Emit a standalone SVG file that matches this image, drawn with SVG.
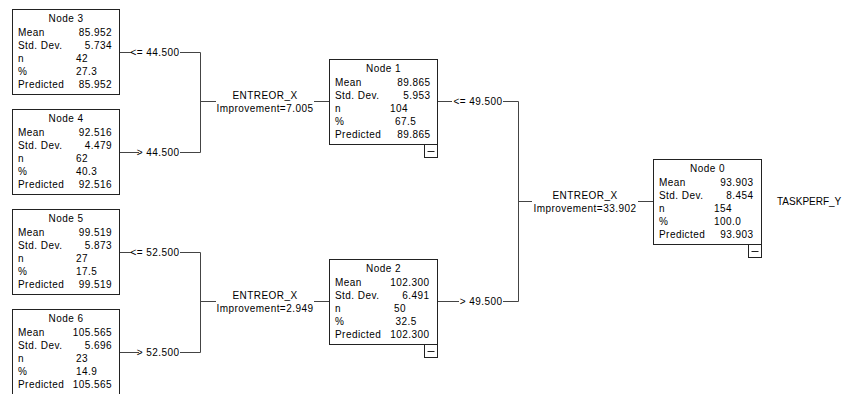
<svg xmlns="http://www.w3.org/2000/svg" width="848" height="394" viewBox="0 0 848 394">
<style>
text{font-family:"Liberation Sans",Arial,sans-serif;font-size:10px;letter-spacing:0.45px;fill:#000}
.box{fill:#fff;stroke:#222;stroke-width:1}
.mb{fill:#fff;stroke:#222;stroke-width:1}
.ml{stroke:#222;stroke-width:1}
.c{fill:none;stroke:#444;stroke-width:1}
.t{text-anchor:middle}
.v{text-anchor:end}
</style>
<rect width="848" height="394" fill="#fff"/>
<g id="connectors">
<path class="c" d="M119.5 52.5H132M180 52.5H200.5V152.5M119.5 152.5H139M180 152.5H200.5M200.5 101.5H216M314 101.5H329.5"/>
<path class="c" d="M119.5 252.5H132M180 252.5H200.5V352.5M119.5 352.5H139M180 352.5H200.5M200.5 301.5H216M314 301.5H329.5"/>
<path class="c" d="M437.5 101.5H452M503 101.5H518.5V301.5M437.5 301.5H459M503 301.5H518.5M518.5 201.5H532M638 201.5H653.5"/>
<text class="v" x="179.5" y="56">&lt;= 44.500</text>
<text class="v" x="179.5" y="156">&gt; 44.500</text>
<text class="v" x="179.5" y="256">&lt;= 52.500</text>
<text class="v" x="179.5" y="356">&gt; 52.500</text>
<text class="v" x="502.5" y="105">&lt;= 49.500</text>
<text class="v" x="502.5" y="305">&gt; 49.500</text>
<text class="t" x="265" y="98.5">ENTREOR_X</text>
<text class="t" x="265" y="112">Improvement=7.005</text>
<text class="t" x="265" y="298.5">ENTREOR_X</text>
<text class="t" x="265" y="312">Improvement=2.949</text>
<text class="t" x="585" y="198.5">ENTREOR_X</text>
<text class="t" x="585" y="212">Improvement=33.902</text>
</g>
<g id="node3" transform="translate(12,9)">
<rect class="box" x="0.5" y="0.5" width="107" height="85"/>
<text class="t" x="54" y="13">Node 3</text>
<text x="6" y="27">Mean</text><text class="v" x="100" y="27">85.952</text>
<text x="6" y="40">Std. Dev.</text><text class="v" x="100" y="40">5.734</text>
<text x="6" y="53">n</text><text x="64" y="53">42</text>
<text x="6" y="66">%</text><text x="64" y="66">27.3</text>
<text x="6" y="78.5">Predicted</text><text class="v" x="100" y="78.5">85.952</text>
</g>
<g id="node4" transform="translate(12,109)">
<rect class="box" x="0.5" y="0.5" width="107" height="85"/>
<text class="t" x="54" y="13">Node 4</text>
<text x="6" y="27">Mean</text><text class="v" x="100" y="27">92.516</text>
<text x="6" y="40">Std. Dev.</text><text class="v" x="100" y="40">4.479</text>
<text x="6" y="53">n</text><text x="64" y="53">62</text>
<text x="6" y="66">%</text><text x="64" y="66">40.3</text>
<text x="6" y="78.5">Predicted</text><text class="v" x="100" y="78.5">92.516</text>
</g>
<g id="node5" transform="translate(12,209)">
<rect class="box" x="0.5" y="0.5" width="107" height="85"/>
<text class="t" x="54" y="13">Node 5</text>
<text x="6" y="27">Mean</text><text class="v" x="100" y="27">99.519</text>
<text x="6" y="40">Std. Dev.</text><text class="v" x="100" y="40">5.873</text>
<text x="6" y="53">n</text><text x="64" y="53">27</text>
<text x="6" y="66">%</text><text x="64" y="66">17.5</text>
<text x="6" y="78.5">Predicted</text><text class="v" x="100" y="78.5">99.519</text>
</g>
<g id="node6" transform="translate(12,309)">
<rect class="box" x="0.5" y="0.5" width="107" height="86"/>
<text class="t" x="54" y="13">Node 6</text>
<text x="6" y="27">Mean</text><text class="v" x="100" y="27">105.565</text>
<text x="6" y="40">Std. Dev.</text><text class="v" x="100" y="40">5.696</text>
<text x="6" y="53">n</text><text x="64" y="53">23</text>
<text x="6" y="66">%</text><text x="64" y="66">14.9</text>
<text x="6" y="78.5">Predicted</text><text class="v" x="100" y="78.5">105.565</text>
</g>
<g id="node1" transform="translate(329,59)">
<rect class="box" x="0.5" y="0.5" width="108" height="85"/>
<text class="t" x="54.5" y="13">Node 1</text>
<text x="6" y="27">Mean</text><text class="v" x="101.5" y="27">89.865</text>
<text x="6" y="40">Std. Dev.</text><text class="v" x="101.5" y="40">5.953</text>
<text x="6" y="53">n</text><text x="61" y="53">104</text>
<text x="6" y="66">%</text><text x="66" y="66">67.5</text>
<text x="6" y="78.5">Predicted</text><text class="v" x="101.5" y="78.5">89.865</text>
<rect class="mb" x="95.5" y="85.5" width="13" height="13"/>
<path class="ml" d="M98.5 92.5H105.5"/>
</g>
<g id="node2" transform="translate(329,259)">
<rect class="box" x="0.5" y="0.5" width="108" height="85"/>
<text class="t" x="54.5" y="13">Node 2</text>
<text x="6" y="27">Mean</text><text class="v" x="100.5" y="27">102.300</text>
<text x="6" y="40">Std. Dev.</text><text class="v" x="100.5" y="40">6.491</text>
<text x="6" y="53">n</text><text x="65" y="53">50</text>
<text x="6" y="66">%</text><text x="66.5" y="66">32.5</text>
<text x="6" y="78.5">Predicted</text><text class="v" x="100.5" y="78.5">102.300</text>
<rect class="mb" x="95.5" y="85.5" width="13" height="13"/>
<path class="ml" d="M98.5 92.5H105.5"/>
</g>
<g id="node0" transform="translate(653,159)">
<rect class="box" x="0.5" y="0.5" width="108" height="85"/>
<text class="t" x="54.5" y="13">Node 0</text>
<text x="6" y="27">Mean</text><text class="v" x="100.5" y="27">93.903</text>
<text x="6" y="40">Std. Dev.</text><text class="v" x="100.5" y="40">8.454</text>
<text x="6" y="53">n</text><text x="61" y="53">154</text>
<text x="6" y="66">%</text><text x="61" y="66">100.0</text>
<text x="6" y="78.5">Predicted</text><text class="v" x="100.5" y="78.5">93.903</text>
<rect class="mb" x="95.5" y="85.5" width="13" height="13"/>
<path class="ml" d="M98.5 92.5H105.5"/>
</g>
<g id="target">
<text x="777" y="205" style="letter-spacing:0">TASKPERF_Y</text>
</g>
</svg>
